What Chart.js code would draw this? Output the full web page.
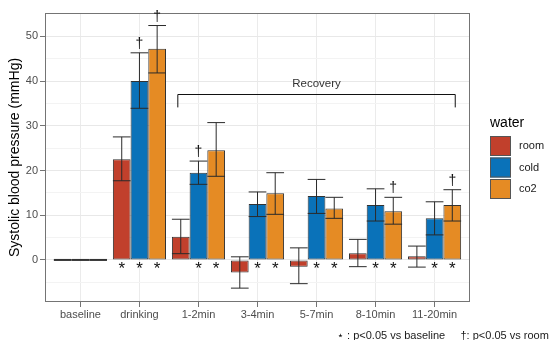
<!DOCTYPE html>
<html>
<head>
<meta charset="utf-8">
<script src="https://cdn.jsdelivr.net/npm/chart.js@4"></script>
<style>
  html, body { margin: 0; padding: 0; background: #fff; }
  #wrap { width: 553px; height: 340px; }
</style>
</head>
<body>
<div id="wrap"><canvas id="bpChart" width="553" height="340"></canvas></div>
<script>
// data
const categories = ["baseline", "drinking", "1-2min", "3-4min", "5-7min", "8-10min", "11-20min"];
const seriesNames = ["room", "cold", "co2"];

const roomMean = [0, 22.5, 5.2, -2.8, -1.5, 1.5, 0.8];
const roomLow  = [0, 17.7, 1.4, -6.3, -5.3, -1.5, -1.6];
const roomHigh = [0, 27.5, 9.1, 0.7, 2.7, 4.6, 3.1];

const coldMean = [0, 40.0, 19.5, 12.5, 14.3, 12.3, 9.3];
const coldLow  = [0, 33.9, 16.9, 9.7, 10.4, 8.7, 5.6];
const coldHigh = [0, 46.3, 22.1, 15.2, 18.0, 15.9, 13.0];

const co2Mean = [0, 47.2, 24.5, 14.9, 11.5, 10.9, 12.3];
const co2Low  = [0, 41.8, 18.7, 10.2, 9.3, 8.0, 8.7];
const co2High = [0, 52.4, 30.7, 19.5, 14.0, 14.0, 15.7];

// significance marks (1 = shown)
const roomStar = [0, 1, 0, 0, 0, 0, 0];
const coldStar = [0, 1, 1, 1, 1, 1, 1];
const co2Star  = [0, 1, 1, 1, 1, 1, 1];
const roomDagger = [0, 0, 0, 0, 0, 0, 0];
const coldDagger = [0, 1, 1, 0, 0, 0, 0];
const co2Dagger  = [0, 1, 0, 0, 0, 1, 1];

const yTicks = [-5, 0, 5, 10, 15, 20, 25, 30, 35, 40, 45, 50, 55];

const colors = ["#C1402C", "#0A72B9", "#E58B24"];
const lows = [roomLow, coldLow, co2Low];
const highs = [roomHigh, coldHigh, co2High];
const stars = [roomStar, coldStar, co2Star];
const daggers = [roomDagger, coldDagger, co2Dagger];

const FONT = "'Liberation Sans', Arial, sans-serif";

const overlay = {
    id: "overlay",
    afterDatasetsDraw(chart) {
        const ctx = chart.ctx;
        const x = chart.scales.x;
        const y = chart.scales.y;
        const area = chart.chartArea;
        const zeroY = y.getPixelForValue(0);
        ctx.save();

        chart.data.datasets.forEach((ds, i) => {
            const meta = chart.getDatasetMeta(i);
            meta.data.forEach((bar, j) => {
                const half = bar.width / 2;
                // zero-height bars show only their outline
                if (ds.data[j] === 0) {
                    ctx.strokeStyle = "#333";
                    ctx.lineWidth = 2;
                    ctx.beginPath();
                    ctx.moveTo(bar.x - half, zeroY);
                    ctx.lineTo(bar.x + half, zeroY);
                    ctx.stroke();
                }
                if (lows[i][j] !== highs[i][j]) {
                    const lo = y.getPixelForValue(lows[i][j]);
                    const hi = y.getPixelForValue(highs[i][j]);
                    ctx.strokeStyle = "#2a2a2a";
                    ctx.lineWidth = 1;
                    ctx.beginPath();
                    ctx.moveTo(bar.x, lo); ctx.lineTo(bar.x, hi);
                    ctx.moveTo(bar.x - half, lo); ctx.lineTo(bar.x + half, lo);
                    ctx.moveTo(bar.x - half, hi); ctx.lineTo(bar.x + half, hi);
                    ctx.stroke();
                }
            });
        });

        // panel border
        ctx.strokeStyle = "#747474";
        ctx.lineWidth = 1;
        ctx.strokeRect(area.left + 0.5, area.top + 0.5, area.right - area.left - 1, area.bottom - area.top - 1);

        ctx.fillStyle = "#111";
        ctx.textAlign = "center";
        ctx.textBaseline = "alphabetic";
        chart.data.datasets.forEach((ds, i) => {
            const meta = chart.getDatasetMeta(i);
            meta.data.forEach((bar, j) => {
                if (stars[i][j]) {
                    ctx.font = "17px " + FONT;
                    ctx.fillText("*", bar.x, zeroY + 14);
                }
                if (daggers[i][j]) {
                    ctx.font = "14px " + FONT;
                    ctx.fillText("\u2020", bar.x, y.getPixelForValue(highs[i][j]) - 5);
                }
            });
        });

        // Recovery bracket
        const bl = x.getPixelForValue(1.65);
        const br = x.getPixelForValue(6.35);
        const by = Math.round(y.getPixelForValue(37.15)) + 0.5;
        const bt = y.getPixelForValue(34.1);
        ctx.strokeStyle = "#111";
        ctx.lineWidth = 1;
        ctx.beginPath();
        ctx.moveTo(bl, bt); ctx.lineTo(bl, by); ctx.lineTo(br, by); ctx.lineTo(br, bt);
        ctx.stroke();
        ctx.fillStyle = "#333";
        ctx.font = "11.5px " + FONT;
        ctx.textBaseline = "middle";
        ctx.fillText("Recovery", x.getPixelForValue(4.0), y.getPixelForValue(39.4));

        ctx.restore();
    },
    afterDraw(chart) {
        const ctx = chart.ctx;
        ctx.save();
        // legend
        ctx.fillStyle = "#000";
        ctx.textAlign = "left";
        ctx.textBaseline = "middle";
        ctx.font = "14px " + FONT;
        ctx.fillText("water", 490, 123);
        ctx.font = "11px " + FONT;
        seriesNames.forEach((name, i) => {
            const top = 136 + i * 21.5;
            ctx.fillStyle = colors[i];
            ctx.fillRect(490, top, 21, 20);
            ctx.strokeStyle = "#555";
            ctx.lineWidth = 1;
            ctx.strokeRect(490.5, top + 0.5, 20, 19);
            ctx.fillStyle = "#1a1a1a";
            ctx.fillText(name, 519, top + 10);
        });
        // caption
        ctx.fillText("\u22c6 : p<0.05 vs baseline     \u2020: p<0.05 vs room", 337, 336);
        ctx.restore();
    }
};

const ctx = document.getElementById("bpChart").getContext("2d");

new Chart(ctx, {
    type: "bar",
    data: {
        labels: categories,
        datasets: [roomMean, coldMean, co2Mean].map((values, i) => ({
            label: seriesNames[i],
            data: values,
            backgroundColor: colors[i],
            borderColor: "#333",
            borderWidth: 1,
            borderSkipped: false,
            categoryPercentage: 0.9,
            barPercentage: 1.0
        }))
    },
    options: {
        responsive: false,
        animation: false,
        events: [],
        layout: { padding: { left: 0, right: 83, top: 13, bottom: 14 } },
        plugins: {
            legend: { display: false },
            tooltip: { enabled: false }
        },
        scales: {
            x: {
                afterBuildTicks: (scale) => {
                    // ggplot-style 0.6 expansion on the discrete axis
                    scale._startValue = -0.6;
                    scale._valueRange = categories.length + 0.2;
                },
                afterFit: (scale) => { scale.height = 24; },
                grid: {
                    offset: false,
                    color: "#EBEBEB",
                    tickColor: "#747474",
                    tickLength: 5
                },
                border: { display: false },
                ticks: {
                    color: "#4D4D4D",
                    font: { family: FONT, size: 11 },
                    padding: 1,
                    maxRotation: 0,
                    autoSkip: false
                }
            },
            y: {
                min: -9.4,
                max: 55.2,
                afterBuildTicks: (scale) => {
                    scale.ticks = yTicks.map(v => ({ value: v }));
                },
                afterFit: (scale) => { scale.width = 45; },
                grid: {
                    color: (c) => (c.tick && c.tick.value % 10 === 0) ? "#E8E8E8" : "#F3F3F3",
                    tickColor: (c) => (c.tick && c.tick.value % 10 === 0 && c.tick.value >= 0) ? "#747474" : "rgba(0,0,0,0)",
                    tickLength: 5
                },
                border: { display: false },
                ticks: {
                    color: "#4D4D4D",
                    font: { family: FONT, size: 11 },
                    padding: 2,
                    autoSkip: false,
                    callback: (v) => (v % 10 === 0 && v >= 0) ? v : ""
                },
                title: {
                    display: true,
                    text: "Systolic blood pressure (mmHg)",
                    color: "#000",
                    font: { family: FONT, size: 14 },
                    padding: { top: 7, bottom: 0 }
                }
            }
        }
    },
    plugins: [overlay]
});
</script>
</body>
</html>
